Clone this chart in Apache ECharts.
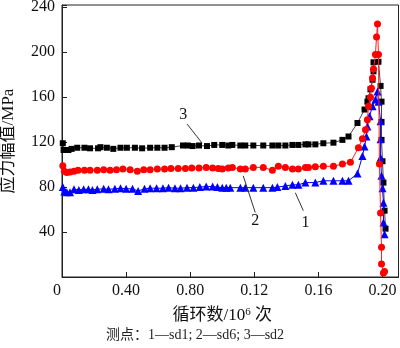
<!DOCTYPE html>
<html><head><meta charset="utf-8">
<script src="https://cdn.jsdelivr.net/npm/echarts@6/dist/echarts.min.js"></script>
<style>html,body{margin:0;padding:0;background:#fff}#c{width:400px;height:348px}</style>
</head><body><div id="c"></div>
<script>
// Tick labels as printed in the original figure
const xTickLabels = ['0', '0.40', '0.80', '0.12', '0.16', '0.20'];
const yTicks = [0, 40, 80, 120, 160, 200, 240];

// Series 1 — sd1 (blue triangles)
const s1 = [[0.0005,80],[0.0015,76],[0.003,75.5],[0.005,75.5],[0.0075,78],[0.0105,77.5],[0.0135,78],[0.0165,78],[0.019,77.5],[0.022,78],[0.026,78.5],[0.029,78],[0.033,78.5],[0.0365,79],[0.04,78.5],[0.044,78.5],[0.0475,76.5],[0.0515,78.5],[0.055,79],[0.059,79],[0.063,79],[0.0665,79.5],[0.0705,79],[0.074,79],[0.078,79.5],[0.082,79.5],[0.086,80],[0.09,80.5],[0.094,80.5],[0.097,80],[0.1,79.5],[0.1025,79.5],[0.105,79.5],[0.1113,79.5],[0.1144,79.5],[0.1194,79.5],[0.1256,79.5],[0.1313,79.5],[0.1344,80],[0.1394,81],[0.1438,82],[0.1475,82],[0.1519,84],[0.1581,84],[0.1631,85.6],[0.1694,85.6],[0.175,85.6],[0.1788,85.6],[0.1844,92],[0.1875,107.6],[0.1888,116],[0.19,125],[0.1906,134],[0.1919,143],[0.1938,152],[0.1956,158],[0.1969,165],[0.1975,156],[0.1988,138.5],[0.1988,122.6],[0.1988,106],[0.1994,90],[0.2,79],[0.2006,66],[0.2006,48.5],[0.2013,38]];

// Series 2 — sd6 (red circles)
const s2 = [[0.0005,99],[0.0015,94],[0.003,93],[0.005,93.5],[0.0075,94],[0.01,95],[0.014,95],[0.0175,95],[0.022,95],[0.026,95.5],[0.03,95],[0.034,95.5],[0.038,96],[0.0425,95.5],[0.047,94],[0.051,95.5],[0.055,95.5],[0.0595,96],[0.064,96],[0.068,96.5],[0.0725,96.5],[0.077,96.5],[0.081,97],[0.0855,97],[0.09,97.5],[0.094,97],[0.0975,96.5],[0.1,96],[0.1038,97],[0.1063,97.5],[0.1113,96],[0.1144,96],[0.1194,97.5],[0.1256,97.5],[0.1313,95],[0.135,98.5],[0.1394,97.5],[0.1438,96],[0.1475,96],[0.1519,97.5],[0.1538,97.5],[0.1581,98],[0.1631,98.5],[0.1694,98.5],[0.175,100.5],[0.18,102],[0.185,115],[0.1875,123],[0.1894,131],[0.1906,140],[0.1913,152],[0.1925,160],[0.1931,168],[0.1938,177],[0.1944,185],[0.1956,198],[0.1963,213.5],[0.1969,225],[0.1975,198],[0.1981,100.5],[0.1988,57],[0.1994,26.5],[0.1994,11.5],[0.2006,3.5],[0.2013,5]];

// Series 3 — sd2 (black squares)
const s3 = [[0.0005,119],[0.001,113],[0.0025,113],[0.004,113],[0.006,114],[0.0095,115],[0.014,115],[0.0175,114.5],[0.0225,114.5],[0.024,115.5],[0.028,115],[0.032,114],[0.0365,115],[0.0405,115],[0.0455,115],[0.05,114.5],[0.055,115],[0.0595,115],[0.064,115],[0.0685,115.5],[0.0755,117],[0.0785,117],[0.0815,116.5],[0.0855,117],[0.0905,116.5],[0.095,117.5],[0.1,117.5],[0.1038,117],[0.1063,117.5],[0.1113,117],[0.1144,117],[0.1194,117],[0.1256,117],[0.1313,117],[0.135,117],[0.1394,117],[0.1438,117.5],[0.1475,117.5],[0.1519,118],[0.1538,118],[0.1581,118],[0.1631,119],[0.1694,119.5],[0.175,122],[0.1788,125],[0.1844,137],[0.1888,149],[0.1906,156],[0.1913,159],[0.1925,167],[0.1938,175.5],[0.1944,183],[0.1944,191],[0.1975,191.5],[0.1988,170],[0.1994,156],[0.1994,138],[0.1994,122],[0.2,103],[0.2006,84],[0.2013,59],[0.2019,43]];

// Curve labels: [text, label x, label y, leader from x, from y, to x, to y] in data units
const curveLabels = [
  ['3', 0.0756, 144.7, 0.0781, 136, 0.0875, 119],
  ['2', 0.1206, 50.3, 0.1206, 57.4, 0.1131, 90],
  ['1', 0.1519, 48.5, 0.1506, 59, 0.1456, 75]
];

const serif = '"Liberation Serif", "Times New Roman", "Noto Sans CJK SC", serif';
const chart = echarts.init(document.getElementById('c'));
chart.setOption({
  animation: false,
  backgroundColor: '#fff',
  grid: {left: 62, right: 1.5, top: 5, bottom: 71, show: true, borderColor: '#222', borderWidth: 1,
         backgroundColor: 'transparent', containLabel: false, outerBoundsMode: 'none'},
  xAxis: {
    type: 'value', min: 0, max: 0.21, interval: 0.04,
    axisLine: {lineStyle: {color: '#222', width: 1}},
    axisTick: {inside: true, length: 5, lineStyle: {color: '#222'}},
    splitLine: {show: false},
    axisLabel: {
      color: '#111', fontFamily: serif, fontSize: 16, margin: 6, showMaxLabel: false,
      formatter: v => {
        const i = Math.round(v / 0.04);
        if (Math.abs(v - i * 0.04) > 1e-6 || i >= xTickLabels.length) return '';
        return i === 0 ? '{z|' + xTickLabels[0] + '}' : xTickLabels[i];
      },
      rich: {z: {fontFamily: serif, fontSize: 16, color: '#111', padding: [0, 10, 6, 0]}}
    },
    name: '{a|循环数/10}{s|6}{a| 次}', nameLocation: 'middle', nameGap: 30,
    nameTextStyle: {
      rich: {
        a: {fontFamily: serif, fontSize: 17, color: '#111'},
        s: {fontFamily: serif, fontSize: 11, color: '#111', verticalAlign: 'top', padding: [0, 0, 0, 0]}
      },
      padding: [0, 16, 0, 0]
    }
  },
  yAxis: {
    type: 'value', min: 0, max: 242, interval: 40,
    axisLine: {lineStyle: {color: '#222', width: 1}},
    axisTick: {inside: true, length: 5, lineStyle: {color: '#222'}},
    splitLine: {show: false},
    axisLabel: {
      color: '#111', fontFamily: serif, fontSize: 16, margin: 7,
      formatter: v => (yTicks.indexOf(v) > 0 ? String(v) : '')
    },
    name: '应力幅值/MPa', nameLocation: 'middle', nameGap: 45, nameRotate: 90,
    nameTextStyle: {fontFamily: serif, fontSize: 17, color: '#111'}
  },
  series: [
    {name: 'sd2', type: 'line', data: s3, symbol: 'rect', symbolSize: 6,
     itemStyle: {color: '#000'}, lineStyle: {color: '#444', width: 1}, z: 2},
    {name: 'sd1', type: 'line', data: s1, symbol: 'triangle', symbolSize: 8,
     itemStyle: {color: '#0000ff'}, lineStyle: {color: '#0000ff', width: 1}, z: 3},
    {name: 'sd6', type: 'line', data: s2, symbol: 'circle', symbolSize: 7,
     itemStyle: {color: '#ff0000'}, lineStyle: {color: '#ff2020', width: 1}, z: 4}
  ]
});

const g = [];
curveLabels.forEach(([t, lx, ly, x1, y1, x2, y2]) => {
  const p = chart.convertToPixel({gridIndex: 0}, [lx, ly]);
  const a = chart.convertToPixel({gridIndex: 0}, [x1, y1]);
  const b = chart.convertToPixel({gridIndex: 0}, [x2, y2]);
  g.push({type: 'text', x: p[0], y: p[1], style: {text: t, font: '16px ' + serif, fill: '#111', align: 'center', verticalAlign: 'middle'}, z: 10});
  g.push({type: 'line', shape: {x1: a[0], y1: a[1], x2: b[0], y2: b[1]}, style: {stroke: '#333', lineWidth: 1}, z: 10});
});
g.push({type: 'text', left: 106, top: 328, style: {text: '测点：1—sd1; 2—sd6; 3—sd2', font: '14px ' + serif, fill: '#222'}});
chart.setOption({graphic: g});
</script>
</body></html>
